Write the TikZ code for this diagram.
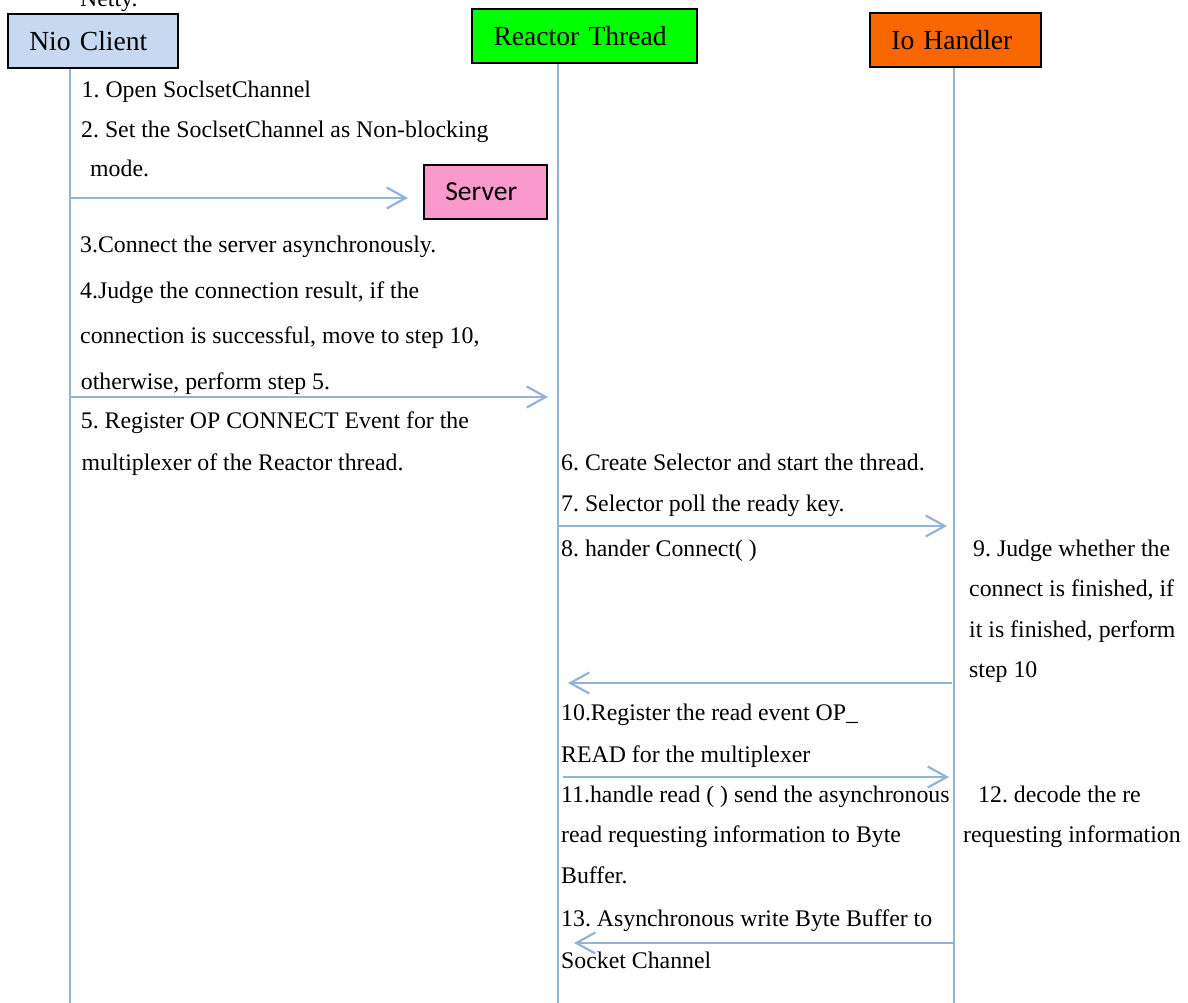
\documentclass[tikz,border=0pt]{standalone}
\usepackage{fontspec}
\setmainfont{Liberation Serif}
\newfontfamily\calibrifont{Carlito}
\usetikzlibrary{arrows.meta}

\definecolor{lifeblue}{RGB}{149,179,215}
\definecolor{clientblue}{RGB}{198,217,241}
\definecolor{reactorgreen}{RGB}{0,255,0}
\definecolor{handlerorange}{RGB}{248,102,0}
\definecolor{serverpink}{RGB}{250,153,204}

\tikzset{
  actor/.style={draw=black, line width=1.6pt, anchor=north west,
    inner ysep=0pt, inner xsep=21.5pt, align=left,
    font=\fontsize{27.6}{32}\selectfont},
  life/.style={draw=lifeblue, line width=2.6pt},
  msg/.style={draw=lifeblue, line width=2.2pt,
    -{Straight Barb[length=19pt,width=21pt]}},
  note/.style={anchor=base west, inner sep=0pt,
    font=\fontsize{23.8}{28}\selectfont}
}

\begin{document}
\frenchspacing
\begin{tikzpicture}[x=1pt,y=-1pt]
\useasboundingbox (0,0) rectangle (1188,1003);

% title line, mostly above the page edge
\node[note] (title) at (80,6.5) {Netty.};

% participants
\node[actor, fill=clientblue, text width=127pt, minimum height=54pt] (nio) at (7,13) {Nio Client};
\node[actor, fill=reactorgreen, line width=2pt, text width=182pt, minimum height=54pt] (reactor) at (471,8) {Reactor Thread};
\node[actor, fill=handlerorange, text width=128pt, minimum height=54pt] (io) at (869,12) {Io Handler};
\node[actor, fill=serverpink, text width=80pt, minimum height=54pt, font=\calibrifont\fontsize{27.6}{32}\selectfont] (server) at (423,164) {Server};

% lifeline ends
\coordinate (nioend) at (70,1003);
\coordinate (reactorend) at (558,1003);
\coordinate (ioend) at (954,1003);

\draw[life] (nio.south -| nioend) -- (nioend);
\draw[life] (reactor.south -| reactorend) -- (reactorend);
\draw[life] (io.south -| ioend) -- (ioend);

% message end points
\coordinate (m1a) at (70,198);  \coordinate (m1b) at (408,198);
\coordinate (m2a) at (70,397);  \coordinate (m2b) at (548,397);
\coordinate (m3a) at (558,526); \coordinate (m3b) at (947,526);
\coordinate (m4a) at (952,683); \coordinate (m4b) at (568,683);
\coordinate (m5a) at (563,777); \coordinate (m5b) at (949,777);
\coordinate (m6a) at (954,943); \coordinate (m6b) at (574,943);

\draw[msg] (m1a) -- (m1b);
\draw[msg] (m2a) -- (m2b);
\draw[msg] (m3a) -- (m3b);
\draw[msg] (m4a) -- (m4b);
\draw[msg] (m5a) -- (m5b);
\draw[msg] (m6a) -- (m6b);

% client side steps
\node[note] (s1)  at (81.5,98)  {1. Open SoclsetChannel};
\node[note] (s2)  at (81,138)   {2. Set the SoclsetChannel as Non-blocking};
\node[note] (s2b) at (90,177)   {mode.};
\node[note] (s3)  at (80,252)   {3.Connect the server asynchronously.};
\node[note] (s4)  at (80,298)   {4.Judge the connection result, if the};
\node[note] (s4b) at (80,343)   {connection is successful, move to step 10,};
\node[note] (s4c) at (80.7,389) {otherwise, perform step 5.};
\node[note] (s5)  at (80.7,428) {5. Register OP CONNECT Event for the};
\node[note] (s5b) at (81.5,470) {multiplexer of the Reactor thread.};

% reactor side steps
\node[note] (s6)   at (561,470) {6. Create Selector and start the thread.};
\node[note] (s7)   at (561,511) {7. Selector poll the ready key.};
\node[note] (s8)   at (561,556) {8. hander Connect( )};
\node[note] (s10)  at (561,720) {10.Register the read event OP\_};
\node[note] (s10b) at (561,762) {READ for the multiplexer};
\node[note] (s11)  at (561,802) {11.handle read ( ) send the asynchronous};
\node[note] (s11b) at (561,842) {read requesting information to Byte};
\node[note] (s11c) at (561,883) {Buffer.};
\node[note] (s13)  at (561,926) {13. Asynchronous write Byte Buffer to};
\node[note] (s13b) at (561,968) {Socket Channel};

% handler side steps
\node[note] (s9)   at (973,556) {9. Judge whether the};
\node[note] (s9b)  at (969,596) {connect is finished, if};
\node[note] (s9c)  at (969,637) {it is finished, perform};
\node[note] (s9d)  at (969,677) {step 10};
\node[note] (s12)  at (978,802) {12. decode the re};
\node[note] (s12b) at (963,842) {requesting information};
\end{tikzpicture}
\end{document}
